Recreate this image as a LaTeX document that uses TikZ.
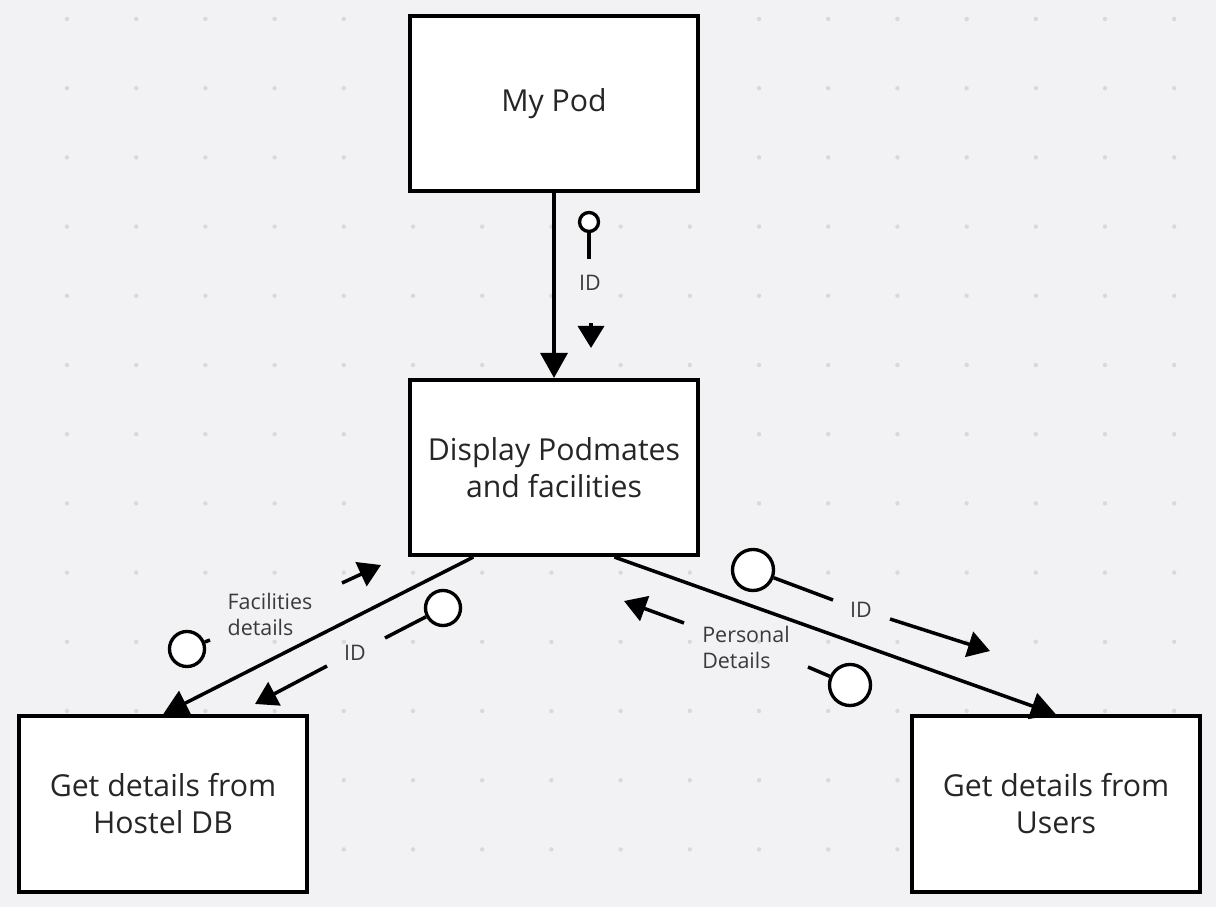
\documentclass[tikz,border=0pt]{standalone}
\usepackage{fontspec}
\setmainfont{Open Sans}
\usetikzlibrary{arrows.meta}

\definecolor{canvas}{HTML}{F2F2F4}
\definecolor{griddot}{HTML}{D9D9DD}
\definecolor{labeltext}{HTML}{3A3A3A}

\tikzset{
	procbox/.style = {draw, fill = white, line width = 1.15pt, minimum width = 2.88cm, minimum height = 1.75cm, align = center, inner sep = 0pt, font = \fontsize{8.6}{10.5}\selectfont, text = black!85},
	flow/.style = {line width = 1pt, -{Triangle[length = 0.25cm, width = 0.27cm]}},
	couple/.style = {draw, circle, fill = white, line width = 0.95pt, inner sep = 0pt},
	stem/.style = {line width = 1pt},
	dataflow/.style = {line width = 1pt, -{Triangle[length = 0.22cm, width = 0.26cm]}},
	flowlabel/.style = {align = left, inner sep = 0pt, font = \fontsize{6.1}{7.4}\selectfont, text = labeltext},
}

\begin{document}
\begin{tikzpicture}[x = 0.01cm, y = -0.01cm]
	\fill [canvas] (0,0) rectangle (1216,907);
	\foreach \i in {0,...,16}
		\foreach \j in {0,...,12}
			\fill [griddot] (67+69.2*\i, 19+69.2*\j) circle [radius = 2.2];

	\node [procbox] (pod) at (554,103.5) {My Pod};
	\node [procbox] (disp) at (554,467.5) {Display Podmates\\and facilities};
	\node [procbox] (hostel) at (163,804) {Get details from\\Hostel DB};
	\node [procbox] (users) at (1056,804) {Get details from\\Users};

	\draw [flow] (pod) -- (disp);
	\draw [flow] (disp.228.6) -- (hostel.north);
	\draw [flow] (disp.304) -- (users.north);

	% ID going down to the display
	\node [couple, minimum size = 0.19cm] (cTop) at (589,222) {};
	\coordinate (sTop) at (589,259);
	\draw [stem] (cTop) -- (sTop);
	\node [flowlabel] (lTop) at (590,283) {ID};
	\coordinate (aTop1) at (591,323);
	\coordinate (aTop2) at (591,348);
	\draw [dataflow] (aTop1) -- (aTop2);

	% hostel side
	\node [couple, minimum size = 0.35cm] (cFac) at (187,649) {};
	\coordinate (sFac) at (210,640);
	\draw [stem] (cFac) -- (sFac);
	\node [flowlabel] (lFac) at (270,614) {Facilities\\details};
	\coordinate (aFac1) at (342,583);
	\coordinate (aFac2) at (381,565);
	\draw [dataflow] (aFac1) -- (aFac2);

	\node [couple, minimum size = 0.35cm] (cHid) at (443,608) {};
	\coordinate (sHid) at (385,638);
	\draw [stem] (cHid) -- (sHid);
	\node [flowlabel] (lHid) at (355,653) {ID};
	\coordinate (aHid1) at (327,666);
	\coordinate (aHid2) at (255,704);
	\draw [dataflow] (aHid1) -- (aHid2);

	% users side
	\node [couple, minimum size = 0.41cm] (cUid) at (753,570) {};
	\coordinate (sUid) at (833,600);
	\draw [stem] (cUid) -- (sUid);
	\node [flowlabel] (lUid) at (861,610) {ID};
	\coordinate (aUid1) at (890,619);
	\coordinate (aUid2) at (990,651);
	\draw [dataflow] (aUid1) -- (aUid2);

	\node [couple, minimum size = 0.41cm] (cPer) at (850,685) {};
	\coordinate (sPer) at (808,667);
	\draw [stem] (cPer) -- (sPer);
	\node [flowlabel] (lPer) at (746,647) {Personal\\Details};
	\coordinate (aPer1) at (684,623);
	\coordinate (aPer2) at (624,601);
	\draw [dataflow] (aPer1) -- (aPer2);
\end{tikzpicture}
\end{document}
